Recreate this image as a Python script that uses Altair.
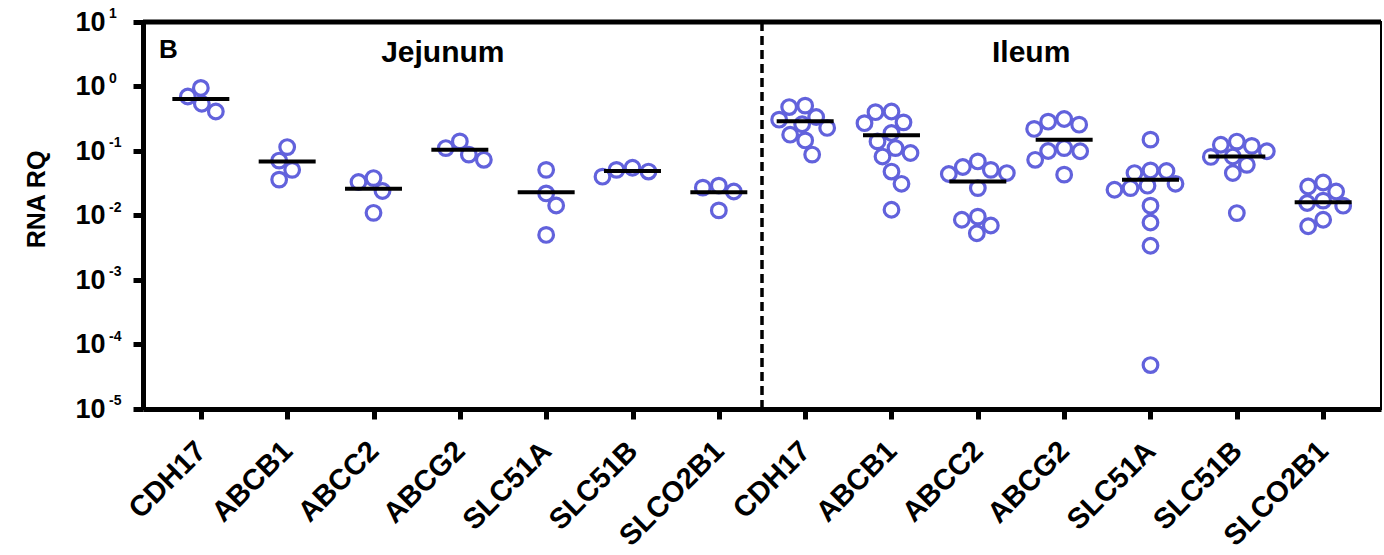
import json
import math
import altair as alt
import pandas as pd

# ---------------- data ----------------
GENES = ["CDH17", "ABCB1", "ABCC2", "ABCG2", "SLC51A", "SLC51B", "SLCO2B1"]
REGIONS = ["Jejunum", "Ileum"]

jej_cdh17 = [0.70, 0.41, 0.54, 0.95]
jej_abcb1 = [0.071, 0.036, 0.051, 0.115]
jej_abcc2 = [0.038, 0.024, 0.033, 0.011]
jej_abcg2 = [0.111, 0.073, 0.088, 0.141]
jej_slc51a = [0.051, 0.022, 0.0143, 0.0050]
jej_slc51b = [0.051, 0.040, 0.048, 0.055]
jej_slco2b1 = [0.027, 0.029, 0.0236, 0.012]
jej_median = [0.64, 0.069, 0.026, 0.105, 0.023, 0.049, 0.023]

ile_cdh17 = [0.505, 0.48, 0.337, 0.306, 0.179, 0.228, 0.146, 0.088, 0.26]
ile_abcb1 = [0.41, 0.40, 0.278, 0.27, 0.19, 0.141, 0.111, 0.093, 0.082, 0.048, 0.031, 0.0123]
ile_abcc2 = [0.069, 0.051, 0.0565, 0.0455, 0.044, 0.0266, 0.0086, 0.0096, 0.0053, 0.0070]
ile_abcg2 = [0.314, 0.256, 0.285, 0.22, 0.099, 0.111, 0.073, 0.043, 0.10]
ile_slc51a = [0.15, 0.050, 0.0455, 0.049, 0.029, 0.0266, 0.0251, 0.031, 0.0142, 0.0078, 0.0034, 0.000048]
ile_slc51b = [0.14, 0.125, 0.12, 0.099, 0.081, 0.082, 0.061, 0.0455, 0.0109]
ile_slco2b1 = [0.0325, 0.0282, 0.0236, 0.0156, 0.0142, 0.017, 0.0086, 0.0068]
ile_median = [0.288, 0.175, 0.0337, 0.15, 0.0358, 0.0824, 0.0161]

Y_EXPONENTS = [1, 0, -1, -2, -3, -4, -5]

jej_sets = [jej_cdh17, jej_abcb1, jej_abcc2, jej_abcg2, jej_slc51a, jej_slc51b, jej_slco2b1]
ile_sets = [ile_cdh17, ile_abcb1, ile_abcc2, ile_abcg2, ile_slc51a, ile_slc51b, ile_slco2b1]

# ---------------- layout ----------------
W, H = 1238, 387
XMIN, XMAX = -0.67, 13.67
STEP_PX = W / (XMAX - XMIN)
DEC_PX = H / 6.0
FONT = "Liberation Sans"
BLUE = "#6262dc"
MIN_DIST = 15.5  # px between circle centres in the swarm


def swarm(vals):
    """simple beeswarm: returns x offsets in data units"""
    ys = [-math.log10(v) * DEC_PX for v in vals]
    order = sorted(range(len(vals)), key=lambda k: ys[k])
    placed = []
    offs = [0.0] * len(vals)
    for n, k in enumerate(order):
        y = ys[k]
        best = None
        s = 0
        while best is None:
            cands = (0.0,) if s == 0 else ((s, -s) if n % 2 == 0 else (-s, s))
            for c in cands:
                if all((c - px) ** 2 + (y - py) ** 2 >= MIN_DIST ** 2 for px, py in placed):
                    best = c
                    break
            s += 1
        placed.append((best, y))
        offs[k] = best / STEP_PX
    return offs


rows, meds = [], []
for r, (sets, med) in enumerate([(jej_sets, jej_median), (ile_sets, ile_median)]):
    for g, vals in enumerate(sets):
        idx = r * len(GENES) + g
        for v, o in zip(vals, swarm(vals)):
            rows.append({"xpos": idx + o, "val": v, "gene": GENES[g], "region": REGIONS[r]})
        meds.append({"lo": idx - 0.33, "hi": idx + 0.33, "val": med[g]})

points_df = pd.DataFrame(rows)
med_df = pd.DataFrame(meds)
labels = GENES * 2

x_axis = alt.Axis(
    values=list(range(len(labels))),
    labelExpr=f"{json.dumps(labels)}[datum.value]",
    labelAngle=-45, labelAlign="right", labelBaseline="middle",
    labelFontSize=29, labelFontWeight="bold", labelPadding=27,
    labelOverlap=False, labelFlush=False, labelColor="black",
    tickSize=10, tickWidth=5, tickColor="black",
    domainWidth=5, domainColor="black", grid=False, title=None,
)
x_scale = alt.Scale(domain=[XMIN, XMAX], nice=False, zero=False)

y_axis = alt.Axis(
    values=[10.0 ** e for e in Y_EXPONENTS],
    labelExpr="'10'", labelFontSize=27, labelFontWeight="bold",
    labelPadding=28, labelBaseline="middle", labelColor="black",
    labelFlush=False, labelOverlap=False,
    tickSize=10, tickWidth=5, tickColor="black",
    domainWidth=5, domainColor="black", grid=False,
    title="RNA RQ",
)
y_scale = alt.Scale(type="log", domain=[1e-5, 10], nice=False)
Y = alt.Y("val:Q", scale=y_scale, axis=y_axis, title="RNA RQ")

points = alt.Chart(points_df).mark_point(
    shape="circle", filled=False, size=215, strokeWidth=3.2, color=BLUE, opacity=1
).encode(x=alt.X("xpos:Q", scale=x_scale, axis=x_axis), y=Y)

medians = alt.Chart(med_df).mark_rule(strokeWidth=4, color="black").encode(
    x=alt.X("lo:Q", scale=x_scale, axis=x_axis), x2="hi:Q", y=Y
)

divider = alt.Chart(pd.DataFrame({"xpos": [len(GENES) - 0.5]})).mark_rule(
    strokeWidth=3.5, color="black", strokeDash=[9, 5]
).encode(x=alt.X("xpos:Q", scale=x_scale, axis=x_axis), y=alt.value(0), y2=alt.value(H))

top_border = alt.Chart(pd.DataFrame({"a": [0]})).mark_rule(strokeWidth=5, color="black").encode(
    x=alt.value(0), x2=alt.value(W), y=alt.value(0)
)

region_df = pd.DataFrame({"xpos": [3, 10], "region": REGIONS, "dx": [-17, -33]})
region_text = alt.layer(*[
    alt.Chart(region_df.iloc[[i]]).mark_text(
        font=FONT, fontSize=30, fontWeight="bold", color="black",
        baseline="alphabetic", align="center", dx=int(region_df.dx[i])
    ).encode(x=alt.X("xpos:Q", scale=x_scale, axis=x_axis), y=alt.value(40), text="region:N")
    for i in range(2)
])

panel_letter = alt.Chart(pd.DataFrame({"t": ["B"]})).mark_text(
    font=FONT, fontSize=26, fontWeight="bold", color="black", align="left", baseline="alphabetic"
).encode(x=alt.value(16), y=alt.value(36), text="t:N")

exp_df = pd.DataFrame({"val": [10.0 ** e for e in Y_EXPONENTS], "e": [str(e) for e in Y_EXPONENTS]})
exponents = alt.Chart(exp_df).mark_text(
    font=FONT, fontSize=14, fontWeight="bold", color="black", align="left", baseline="alphabetic", dy=-4
).encode(x=alt.value(-34), y=Y, text="e:N")

chart = alt.layer(
    top_border, divider, points, medians, region_text, panel_letter, exponents
).properties(
    width=W, height=H,
    padding={"left": 143, "top": 22, "right": 1384 - 143 - W, "bottom": 555 - 22 - H},
    autosize=alt.AutoSizeParams(type="none"),
    background="white",
).configure_view(stroke="black", strokeWidth=2).configure_axis(
    labelFont=FONT, titleFont=FONT
).configure_axisY(
    titleFontSize=25, titleFontWeight="bold", titleColor="black",
    titleX=-107, titleY=177, titleAngle=270, titleAlign="center", titleBaseline="middle",
)

chart.save("out.html", embed_options={"renderer": "svg", "actions": False})
